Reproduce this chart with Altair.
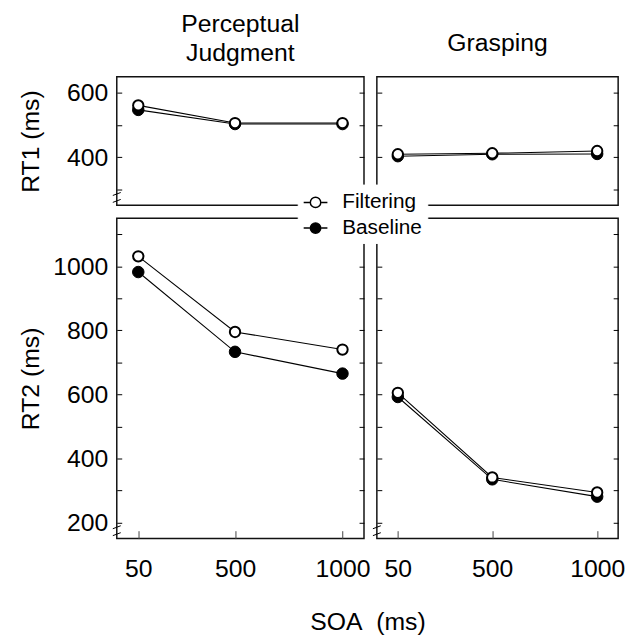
import altair as alt
import pandas as pd

# ---- data ----
soa = [50, 500, 1000]
conditions = ["Filtering", "Baseline"]

pj_rt1_filtering = [561, 506, 506]
pj_rt1_baseline = [547, 503, 503]
gr_rt1_filtering = [409, 412, 419]
gr_rt1_baseline = [403, 409, 410]
pj_rt2_filtering = [1031, 795, 740]
pj_rt2_baseline = [982, 733, 665]
gr_rt2_filtering = [605, 341, 294]
gr_rt2_baseline = [592, 335, 281]

rt1_domain = [250, 650]
rt1_ticks = [300, 400, 500, 600]
rt1_labels = [400, 600]
rt2_domain = [150, 1150]
rt2_ticks = [200, 300, 400, 500, 600, 700, 800, 900, 1000, 1100]
rt2_labels = [200, 400, 600, 800, 1000]
x_domain = [-50, 1100]

FONT = "Liberation Sans"
W_L, W_R = 250, 244
H_TOP, H_BOT = 130, 324
GAP = 13

SYMBOL = ("M-1,0L-0.5,0M0.5,0L1,0"
          "M-0.44,0A0.44,0.44,0,1,1,0.44,0A0.44,0.44,0,1,1,-0.44,0Z")

legend = alt.Legend(
    title=None, orient="none", legendX=183, legendY=109,
    symbolType=SYMBOL, symbolSize=576, symbolStrokeColor="black",
    symbolStrokeWidth=1.5, labelFont=FONT, labelFontSize=21,
    labelColor="black", labelOffset=14, rowPadding=3, padding=5,
    fillColor="white", strokeColor="white",
)
fill_enc = alt.Fill("cond:N",
                    scale=alt.Scale(domain=conditions, range=["white", "black"]),
                    legend=legend)


def make_df(f, b):
    return pd.DataFrame({
        "soa": soa + soa,
        "cond": ["Filtering"] * 3 + ["Baseline"] * 3,
        "rt": f + b,
    })


def panel(f, b, ydom, yticks, ylabels, W, H, left, bottom,
          ytitle="", xtitle="", title=None, title_offset=16):
    df = make_df(f, b)
    xs = alt.Scale(domain=x_domain, nice=False, zero=False)
    ys = alt.Scale(domain=ydom, nice=False, zero=False)

    if left:
        y_lab = alt.Axis(orient="left", values=ylabels, ticks=False, domain=False,
                         grid=False, labelPadding=9, labelFontSize=25, format="d",
                         labelFont=FONT, labelColor="black", title=ytitle,
                         titleFont=FONT, titleFontSize=25, titleFontWeight="normal",
                         titleColor="black", titleX=-79, titleBaseline="alphabetic")
    else:
        y_lab = None
    y_in_left = alt.Axis(orient="right", offset=-W, values=yticks, labels=False,
                         domain=False, grid=False, tickSize=5, tickColor="black",
                         tickWidth=1, title=None)
    y_in_right = alt.Axis(orient="left", offset=-W, values=yticks, labels=False,
                          domain=False, grid=False, tickSize=5, tickColor="black",
                          tickWidth=1, title=None)
    if bottom:
        x_lab = alt.Axis(orient="bottom", values=soa, ticks=False, domain=False,
                         grid=False, labelPadding=18, labelFontSize=25, format="d",
                         labelFont=FONT, labelColor="black",
                         title=xtitle if xtitle else None,
                         titleFont=FONT, titleFontSize=25, titleFontWeight="normal",
                         titleColor="black", titleX=(W_L + GAP + W_R) / 2,
                         titleY=92, titleBaseline="alphabetic")
        x_in = alt.Axis(orient="top", offset=-H, values=soa, labels=False,
                        domain=False, grid=False, tickSize=8, tickColor="#444",
                        tickWidth=1, title=None)
    else:
        x_lab = None
        x_in = None

    lines = alt.Chart(df).mark_line(color="black", strokeWidth=1.1).encode(
        x=alt.X("soa:Q", scale=xs, axis=x_lab),
        y=alt.Y("rt:Q", scale=ys, axis=y_lab),
        detail="cond:N",
    )
    pts_b = alt.Chart(df).transform_filter(alt.datum.cond == "Baseline").mark_circle(
        size=135, stroke="black", strokeWidth=1, opacity=1
    ).encode(
        x=alt.X("soa:Q", scale=xs, axis=x_in),
        y=alt.Y("rt:Q", scale=ys, axis=y_in_left),
        fill=fill_enc,
    )
    pts_f = alt.Chart(df).transform_filter(alt.datum.cond == "Filtering").mark_circle(
        size=110, stroke="black", strokeWidth=2, opacity=1
    ).encode(
        x=alt.X("soa:Q", scale=xs, axis=None),
        y=alt.Y("rt:Q", scale=ys, axis=y_in_right),
        fill=fill_enc,
    )
    one = pd.DataFrame({"k": [0]})
    brk1 = alt.Chart(one).mark_rule(color="black", strokeWidth=1).encode(
        x=alt.value(-4), x2=alt.value(4), y=alt.value(H - 10), y2=alt.value(H - 13))
    brk2 = alt.Chart(one).mark_rule(color="black", strokeWidth=1).encode(
        x=alt.value(-4), x2=alt.value(4), y=alt.value(H - 3), y2=alt.value(H - 6))

    layered = alt.layer(lines, pts_b, pts_f, brk1, brk2).resolve_axis(
        x="independent", y="independent")
    props = dict(width=W, height=H)
    if title is not None:
        props["title"] = alt.TitleParams(
            text=title, font=FONT, fontSize=25, fontWeight="normal",
            color="black", lineHeight=29, offset=title_offset,
            anchor="middle", baseline="alphabetic")
    return layered.properties(**props)


p11 = panel(pj_rt1_filtering, pj_rt1_baseline, rt1_domain, rt1_ticks, rt1_labels,
            W_L, H_TOP, left=True, bottom=False, ytitle="RT1 (ms)",
            title=["Perceptual", "Judgment"], title_offset=-9)
p12 = panel(gr_rt1_filtering, gr_rt1_baseline, rt1_domain, rt1_ticks, rt1_labels,
            W_R, H_TOP, left=False, bottom=False,
            title="Grasping", title_offset=1)
p21 = panel(pj_rt2_filtering, pj_rt2_baseline, rt2_domain, rt2_ticks, rt2_labels,
            W_L, H_BOT, left=True, bottom=True, ytitle="RT2 (ms)",
            xtitle="SOA\u00a0\u00a0(ms)")
p22 = panel(gr_rt2_filtering, gr_rt2_baseline, rt2_domain, rt2_ticks, rt2_labels,
            W_R, H_BOT, left=False, bottom=True)

chart = alt.concat(p11, p12, p21, p22, columns=2, spacing=GAP).properties(
    bounds="flush", align="each",
    padding={"left": 10, "top": 0, "right": 5, "bottom": 5},
    background="white",
).configure_view(stroke="#111", strokeWidth=1.5)

chart.save("out.html", embed_options={"renderer": "svg", "actions": False})
